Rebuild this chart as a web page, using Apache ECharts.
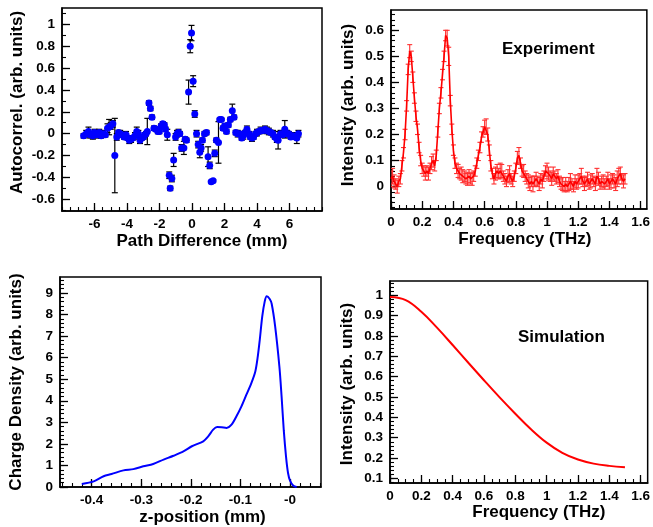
<!DOCTYPE html>
<html><head><meta charset="utf-8">
<script src="https://cdn.jsdelivr.net/npm/echarts@6/dist/echarts.min.js"></script>
<style>html,body{margin:0;padding:0;background:#fff}#c{width:653px;height:527px}</style>
</head><body><div id="c"></div>
<script>
// ---------- Panel 1: Autocorrelation ----------
const acX = [-6.67,-6.51,-6.37,-6.27,-6.10,-6.00,-5.86,-5.71,-5.59,-5.45,-5.33,-5.20,-5.10,-5.00,-4.87,-4.75,-4.63,-4.52,-4.42,-4.32,
 -4.18,-4.06,-3.96,-3.86,-3.75,-3.65,-3.51,-3.40,-3.30,-3.20,-3.10,-2.98,-2.90,-2.83,-2.75,-2.65,-2.56,-2.46,-2.34,-2.22,
 -2.10,-2.01,-1.90,-1.80,-1.70,-1.63,-1.52,-1.40,-1.34,-1.24,-1.13,-1.01,-0.92,-0.83,-0.75,-0.64,-0.50,-0.42,-0.34,-0.21,
 -0.11,-0.03,0.07,0.17,0.28,0.38,0.48,0.56,0.64,0.77,0.89,0.99,1.09,1.18,1.30,1.40,1.50,1.63,1.71,1.81,
 1.91,2.01,2.12,2.24,2.36,2.48,2.59,2.69,2.81,2.93,3.06,3.16,3.28,3.38,3.51,3.59,3.69,3.79,3.91,4.00,
 4.12,4.22,4.36,4.49,4.61,4.73,4.85,4.98,5.10,5.22,5.30,5.45,5.59,5.71,5.84,5.96,6.08,6.20,6.35,6.45,6.55];
const acY = [-0.02,0.00,0.02,-0.01,-0.02,0.01,-0.01,0.01,-0.02,0.00,-0.01,0.05,0.06,0.07,0.09,-0.20,-0.03,0.01,0.00,-0.01,
 -0.03,-0.01,-0.04,-0.06,-0.05,-0.04,-0.02,0.02,0.00,-0.06,-0.04,-0.03,-0.01,0.00,0.02,0.28,0.23,0.15,0.05,0.04,
 0.02,0.02,0.07,0.09,0.08,0.04,-0.01,-0.38,-0.50,-0.41,-0.24,-0.03,0.00,0.01,0.00,-0.13,-0.13,-0.05,-0.06,0.38,
 0.80,0.92,0.48,0.18,0.00,-0.10,-0.17,-0.13,-0.06,0.00,0.01,-0.21,-0.29,-0.44,-0.43,-0.18,-0.06,-0.08,0.13,0.13,
 0.05,0.07,0.02,0.08,0.13,0.21,0.15,0.01,0.00,0.00,-0.04,-0.02,0.01,0.04,0.00,-0.03,-0.04,-0.03,0.00,0.01,
 0.02,0.03,0.03,0.04,0.03,0.02,0.01,0.00,-0.03,-0.05,-0.06,0.00,-0.01,0.04,0.00,0.00,-0.03,-0.02,-0.03,-0.04,0.00];
const acErr = [0.02,0.03,0.04,0.03,0.03,0.03,0.03,0.03,0.02,0.03,0.02,0.04,0.07,0.03,0.03,0.34,0.03,0.02,0.03,0.02,
 0.02,0.03,0.02,0.03,0.03,0.02,0.03,0.04,0.03,0.03,0.02,0.02,0.02,0.02,0.12,0.02,0.02,0.02,0.02,0.02,
 0.02,0.02,0.02,0.02,0.02,0.02,0.05,0.03,0.02,0.03,0.06,0.03,0.03,0.03,0.02,0.03,0.06,0.02,0.02,0.11,
 0.06,0.07,0.05,0.03,0.03,0.03,0.05,0.03,0.02,0.02,0.02,0.09,0.03,0.01,0.01,0.03,0.02,0.19,0.01,0.01,
 0.02,0.02,0.02,0.02,0.02,0.06,0.02,0.02,0.03,0.02,0.02,0.03,0.02,0.03,0.02,0.02,0.03,0.02,0.02,0.03,
 0.02,0.03,0.02,0.03,0.03,0.03,0.02,0.03,0.02,0.03,0.08,0.03,0.02,0.08,0.03,0.02,0.02,0.03,0.02,0.05,0.03];
const acXTicks = [-6,-4,-2,0,2,4,6];
const acXLabels = ['-6','-4','-2','0','2','4','6'];
const acYTicks = [-0.6,-0.4,-0.2,0,0.2,0.4,0.6,0.8,1];
const acYLabels = ['-0.6','-0.4','-0.2','0','0.2','0.4','0.6','0.8','1'];

// ---------- Panel 2: Experiment spectrum ----------
const expFreq = [0,0.01,0.02,0.03,0.04,0.05,0.06,0.07,0.08,0.09,
 0.10,0.11,0.12,0.13,0.14,0.15,0.16,0.17,0.18,0.19,
 0.20,0.21,0.22,0.23,0.24,0.25,0.26,0.27,0.28,0.29,
 0.30,0.31,0.32,0.33,0.34,0.35,0.36,0.37,0.38,0.39,
 0.40,0.41,0.42,0.43,0.44,0.45,0.46,0.47,0.48,0.49,
 0.50,0.51,0.52,0.53,0.54,0.55,0.56,0.57,0.58,0.59,
 0.60,0.61,0.62,0.63,0.64,0.65,0.66,0.67,0.68,0.69,
 0.70,0.71,0.72,0.73,0.74,0.75,0.76,0.77,0.78,0.79,
 0.80,0.81,0.82,0.83,0.84,0.85,0.86,0.87,0.88,0.89,
 0.90,0.91,0.92,0.93,0.94,0.95,0.96,0.97,0.98,0.99,
 1.00,1.01,1.02,1.03,1.04,1.05,1.06,1.07,1.08,1.09,
 1.10,1.11,1.12,1.13,1.14,1.15,1.16,1.17,1.18,1.19,
 1.20,1.21,1.22,1.23,1.24,1.25,1.26,1.27,1.28,1.29,
 1.30,1.31,1.32,1.33,1.34,1.35,1.36,1.37,1.38,1.39,
 1.40,1.41,1.42,1.43,1.44,1.45,1.46,1.47,1.48,1.49,1.50];
const expInt = [0.03,0.04,0.02,0.01,0.00,0.02,0.03,0.08,0.13,0.20,
 0.31,0.45,0.52,0.50,0.42,0.34,0.27,0.22,0.15,0.10,
 0.07,0.06,0.05,0.06,0.05,0.07,0.09,0.10,0.08,0.12,
 0.21,0.30,0.36,0.43,0.50,0.58,0.57,0.50,0.33,0.22,
 0.14,0.09,0.07,0.06,0.05,0.05,0.04,0.04,0.03,0.03,
 0.04,0.03,0.03,0.04,0.06,0.09,0.12,0.15,0.19,0.21,
 0.23,0.23,0.20,0.14,0.08,0.05,0.03,0.05,0.06,0.05,
 0.06,0.06,0.04,0.03,0.02,0.04,0.05,0.03,0.02,0.04,
 0.07,0.11,0.12,0.09,0.06,0.06,0.04,0.03,0.02,0.01,
 0.02,0.01,0.02,0.03,0.02,0.01,0.03,0.02,0.04,0.06,
 0.06,0.05,0.04,0.03,0.05,0.04,0.03,0.04,0.02,0.01,
 0.01,0.00,0.01,0.00,0.01,0.02,0.01,0.00,0.02,0.01,
 0.02,0.03,0.04,0.02,0.01,0.02,0.03,0.01,0.02,0.03,
 0.02,0.01,0.04,0.03,0.01,0.02,0.02,0.01,0.02,0.03,
 0.01,0.02,0.03,0.02,0.01,0.03,0.04,0.05,0.03,0.02,0.03];
const expErr = [0.03,0.03,0.025,0.02,0.025,0.02,0.02,0.02,0.02,0.02,
 0.02,0.02,0.025,0.02,0.02,0.02,0.02,0.02,0.02,0.02,
 0.02,0.02,0.025,0.02,0.025,0.02,0.025,0.025,0.02,0.02,
 0.02,0.02,0.02,0.02,0.02,0.02,0.03,0.035,0.02,0.02,
 0.02,0.02,0.02,0.025,0.02,0.025,0.025,0.02,0.02,0.025,
 0.025,0.02,0.025,0.02,0.02,0.02,0.02,0.02,0.02,0.02,
 0.025,0.03,0.025,0.02,0.02,0.02,0.02,0.025,0.025,0.02,
 0.03,0.025,0.02,0.02,0.02,0.025,0.03,0.02,0.02,0.02,
 0.02,0.025,0.03,0.02,0.02,0.025,0.02,0.02,0.025,0.025,
 0.02,0.03,0.02,0.025,0.02,0.025,0.02,0.025,0.02,0.02,
 0.03,0.025,0.02,0.025,0.025,0.02,0.02,0.025,0.02,0.02,
 0.025,0.02,0.025,0.02,0.025,0.03,0.02,0.02,0.025,0.02,
 0.025,0.02,0.03,0.02,0.025,0.02,0.025,0.02,0.025,0.02,
 0.02,0.025,0.03,0.025,0.02,0.02,0.025,0.02,0.02,0.025,
 0.02,0.025,0.02,0.025,0.025,0.03,0.03,0.025,0.02,0.025,0.02];
const freqTicks = [0,0.2,0.4,0.6,0.8,1,1.2,1.4,1.6];
const freqLabels = ['0','0.2','0.4','0.6','0.8','1','1.2','1.4','1.6'];
const expYTicks = [0,0.1,0.2,0.3,0.4,0.5,0.6];
const expYLabels = ['0','0.1','0.2','0.3','0.4','0.5','0.6'];

// ---------- Panel 3: Charge density ----------
const zPos = [-0.420,-0.396,-0.376,-0.360,-0.336,-0.316,-0.296,-0.276,-0.255,-0.235,-0.215,-0.198,-0.175,-0.165,-0.155,-0.147,-0.138,-0.128,-0.118,-0.108,
 -0.098,-0.088,-0.078,-0.070,-0.065,-0.061,-0.056,-0.051,-0.047,-0.041,-0.037,-0.030,-0.0215,-0.017,-0.0125,-0.008,-0.004,0.000,0.0067,0.0134];
const density = [0.14,0.26,0.50,0.60,0.77,0.83,0.96,1.07,1.27,1.45,1.65,1.89,2.12,2.35,2.66,2.78,2.77,2.74,2.89,3.28,
 3.74,4.28,4.82,5.36,6.06,6.83,7.91,8.61,8.85,8.72,8.50,7.45,5.60,4.20,2.60,1.40,0.65,0.30,0.06,0.00];
const zTicks = [-0.4,-0.3,-0.2,-0.1,0];
const zLabels = ['-0.4','-0.3','-0.2','-0.1','-0'];
const dTicks = [0,1,2,3,4,5,6,7,8,9];
const dLabels = ['0','1','2','3','4','5','6','7','8','9'];

// ---------- Panel 4: Simulation spectrum ----------
const simFreq = [0,0.1,0.2,0.3,0.4,0.5,0.6,0.7,0.8,0.9,1.0,1.1,1.2,1.3,1.4,1.5];
const simInt = [0.99,0.975,0.918,0.84,0.755,0.668,0.582,0.498,0.418,0.342,0.276,0.226,0.193,0.173,0.162,0.155];
const simYTicks = [0.1,0.2,0.3,0.4,0.5,0.6,0.7,0.8,0.9,1];
const simYLabels = ['0.1','0.2','0.3','0.4','0.5','0.6','0.7','0.8','0.9','1'];

// ---------- styling / helpers ----------
const FONT = "'Liberation Sans', Arial, Helvetica, sans-serif";
function steps(min, max, step) {
  const out = [];
  const k0 = Math.ceil(min / step - 1e-9), k1 = Math.floor(max / step + 1e-9);
  for (let k = k0; k <= k1; k++) out.push(+(k * step).toFixed(6));
  return out;
}
function mainAxis(gridIndex, min, max, ticks, labels, name, nameGap, pad, isY) {
  return {
    type: 'value', gridIndex, min, max,
    position: isY ? 'left' : 'bottom',
    axisLine: { show: true, onZero: false, lineStyle: { color: '#000', width: 1.5 } },
    axisTick: { show: true, inside: true, length: 8, customValues: ticks, lineStyle: { color: '#000', width: 1.3 } },
    axisLabel: {
      show: true, customValues: ticks, color: '#000', fontWeight: 'bold', fontSize: 13.5, fontFamily: FONT, margin: isY ? 7 : 6,
      formatter: function (v) {
        let bi = 0, bd = Infinity;
        ticks.forEach((t, i) => { const d = Math.abs(t - v); if (d < bd) { bd = d; bi = i; } });
        return labels[bi];
      }
    },
    splitLine: { show: false },
    name, nameLocation: 'middle', nameGap,
    nameTextStyle: { color: '#000', fontWeight: 'bold', fontSize: 17, fontFamily: FONT, padding: pad }
  };
}
function minorAxis(gridIndex, min, max, minors, isY) {
  return {
    type: 'value', gridIndex, min, max,
    position: isY ? 'left' : 'bottom',
    axisLine: { show: false, onZero: false },
    axisTick: { show: true, inside: true, length: 4, customValues: minors, lineStyle: { color: '#000', width: 1.1 } },
    axisLabel: { show: false },
    splitLine: { show: false }
  };
}
function errRender(color, cap, lw) {
  return function (params, api) {
    const x = api.value(0), y = api.value(1), e = api.value(2);
    const hi = api.coord([x, y + e]), lo = api.coord([x, y - e]);
    const hw = cap / 2;
    const st = { stroke: color, lineWidth: lw };
    return { type: 'group', children: [
      { type: 'line', shape: { x1: hi[0], y1: hi[1], x2: lo[0], y2: lo[1] }, style: st },
      { type: 'line', shape: { x1: hi[0] - hw, y1: hi[1], x2: hi[0] + hw, y2: hi[1] }, style: st },
      { type: 'line', shape: { x1: lo[0] - hw, y1: lo[1], x2: lo[0] + hw, y2: lo[1] }, style: st }
    ] };
  };
}

const R = {
  tl: { x: [-8, 8], y: [-0.707, 1.149] },
  tr: { x: [0, 1.64], y: [-0.086, 0.678] },
  bl: { x: [-0.464, 0.0625], y: [0, 9.74] },
  br: { x: [0, 1.645], y: [0.078, 1.069] }
};

const acData = acX.map((x, i) => [x, acY[i], acErr[i]]);
const expData = expFreq.map((x, i) => [x, expInt[i], expErr[i]]);

const gridStyle = { show: true, borderColor: '#000', borderWidth: 1.5, backgroundColor: 'transparent', containLabel: false };

const option = {
  animation: false,
  backgroundColor: '#fff',
  grid: [
    Object.assign({ left: 62, top: 8, width: 260, height: 203 }, gridStyle),
    Object.assign({ left: 391, top: 10, width: 260, height: 199 }, gridStyle),
    Object.assign({ left: 60, top: 277, width: 261, height: 210 }, gridStyle),
    Object.assign({ left: 390, top: 281, width: 261, height: 202 }, gridStyle)
  ],
  xAxis: [
    mainAxis(0, R.tl.x[0], R.tl.x[1], acXTicks, acXLabels, 'Path Difference (mm)', 22, [0, 0, 0, 20], false),
    mainAxis(1, R.tr.x[0], R.tr.x[1], freqTicks, freqLabels, 'Frequency (THz)', 22, [0, 0, 0, 12], false),
    mainAxis(2, R.bl.x[0], R.bl.x[1], zTicks, zLabels, 'z-position (mm)', 22, [0, 0, 0, 24], false),
    mainAxis(3, R.br.x[0], R.br.x[1], freqTicks, freqLabels, 'Frequency (THz)', 19, [0, 0, 0, 40], false),
    minorAxis(0, R.tl.x[0], R.tl.x[1], steps(R.tl.x[0], R.tl.x[1], 0.5), false),
    minorAxis(1, R.tr.x[0], R.tr.x[1], steps(R.tr.x[0], R.tr.x[1], 0.05), false),
    minorAxis(2, R.bl.x[0], R.bl.x[1], steps(R.bl.x[0], R.bl.x[1], 0.02), false),
    minorAxis(3, R.br.x[0], R.br.x[1], steps(R.br.x[0], R.br.x[1], 0.05), false)
  ],
  yAxis: [
    mainAxis(0, R.tl.y[0], R.tl.y[1], acYTicks, acYLabels, 'Autocorrel. (arb. units)', 36, [0, 0, 0, 14], true),
    mainAxis(1, R.tr.y[0], R.tr.y[1], expYTicks, expYLabels, 'Intensity (arb. units)', 34, [0, 0, 0, 9], true),
    mainAxis(2, R.bl.y[0], R.bl.y[1], dTicks, dLabels, 'Charge Density (arb. units)', 35, [0, 0, 0, 0], true),
    mainAxis(3, R.br.y[0], R.br.y[1], simYTicks, simYLabels, 'Intensity (arb. units)', 34, [0, 4, 0, 0], true),
    minorAxis(0, R.tl.y[0], R.tl.y[1], steps(R.tl.y[0], R.tl.y[1], 0.1), true),
    minorAxis(1, R.tr.y[0], R.tr.y[1], steps(R.tr.y[0], R.tr.y[1], 0.02), true),
    minorAxis(2, R.bl.y[0], R.bl.y[1], steps(R.bl.y[0], R.bl.y[1], 0.2), true),
    minorAxis(3, R.br.y[0], R.br.y[1], steps(R.br.y[0], R.br.y[1], 0.02), true)
  ],
  graphic: [
    { type: 'text', left: 502, top: 41, style: { text: 'Experiment', fill: '#000', font: 'bold 17px ' + FONT } },
    { type: 'text', left: 518, top: 329, style: { text: 'Simulation', fill: '#000', font: 'bold 17px ' + FONT } }
  ],
  series: [
    { type: 'custom', xAxisIndex: 0, yAxisIndex: 0, data: acData, encode: { x: 0, y: 1 },
      renderItem: errRender('#000', 6, 1.2), z: 2, clip: true, silent: true },
    { type: 'scatter', xAxisIndex: 0, yAxisIndex: 0, data: acData.map(d => [d[0], d[1]]),
      symbol: 'circle', symbolSize: 7, itemStyle: { color: '#0000ff', opacity: 1 }, z: 3, silent: true },
    { type: 'custom', xAxisIndex: 1, yAxisIndex: 1, data: expData, encode: { x: 0, y: 1 },
      renderItem: errRender('#ff3030', 5, 1.1), z: 2, clip: true, silent: true },
    { type: 'line', xAxisIndex: 1, yAxisIndex: 1, data: expData.map(d => [d[0], d[1]]),
      showSymbol: false, lineStyle: { color: '#ff0000', width: 1.6 }, z: 3, silent: true },
    { type: 'line', xAxisIndex: 2, yAxisIndex: 2, data: zPos.map((x, i) => [x, density[i]]),
      showSymbol: false, smooth: 0.3, lineStyle: { color: '#0000ff', width: 2 }, silent: true },
    { type: 'line', xAxisIndex: 3, yAxisIndex: 3, data: simFreq.map((x, i) => [x, simInt[i]]),
      showSymbol: false, smooth: 0.4, lineStyle: { color: '#ff0000', width: 2 }, silent: true }
  ]
};
const chart = echarts.init(document.getElementById('c'), null, { renderer: 'canvas' });
chart.setOption(option);
</script>
</body></html>
